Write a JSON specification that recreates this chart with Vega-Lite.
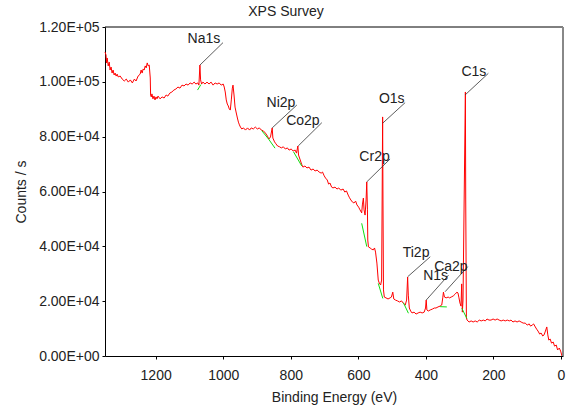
{
  "$schema": "https://vega.github.io/schema/vega-lite/v6.json",
  "width": 458,
  "height": 329,
  "autosize": "none",
  "padding": {"left": 105, "top": 27, "right": 9, "bottom": 60},
  "title": {"text": "XPS Survey", "fontSize": 14, "fontWeight": "normal", "font": "Liberation Sans", "color": "#222", "anchor": "middle", "dx": -48, "offset": 1},
  "config": {
    "view": {"stroke": null},
    "axis": {"grid": false, "domainColor": "#000", "tickColor": "#000", "labelFont": "Liberation Sans", "titleFont": "Liberation Sans", "labelFontSize": 14, "titleFontSize": 14, "titleFontWeight": "normal", "labelColor": "#222", "titleColor": "#222", "tickSize": 3}
  },
  "datasets": {
    "spec": [
      {"E":1350,"C":110900},{"E":1347,"C":109800},{"E":1345.5,"C":106900},{"E":1343.5,"C":108700},{"E":1340.5,"C":105800},{"E":1337.5,"C":107200},{"E":1335,"C":104300},{"E":1332,"C":105400},{"E":1329,"C":103200},{"E":1326,"C":104300},{"E":1323,"C":102500},{"E":1320,"C":103200},{"E":1317,"C":102100},{"E":1314,"C":102800},{"E":1311,"C":101800},{"E":1305,"C":102100},{"E":1299,"C":101000},{"E":1293,"C":100300},{"E":1287,"C":101000},{"E":1281,"C":99900},{"E":1275,"C":100700},{"E":1269,"C":99600},{"E":1263,"C":101000},{"E":1258,"C":100300},{"E":1252,"C":102100},{"E":1246,"C":102800},{"E":1243,"C":104300},{"E":1240,"C":103200},{"E":1237,"C":104700},{"E":1234,"C":104300},{"E":1231,"C":105800},{"E":1228,"C":105100},{"E":1225,"C":106900},{"E":1222,"C":105800},{"E":1219,"C":106100},{"E":1216,"C":101400},{"E":1215,"C":95200},{"E":1213,"C":94500},{"E":1211,"C":95600},{"E":1208,"C":93800},{"E":1205,"C":94800},{"E":1202,"C":93400},{"E":1199,"C":94500},{"E":1196,"C":93800},{"E":1193,"C":94800},{"E":1187,"C":93800},{"E":1181,"C":94500},{"E":1175,"C":94100},{"E":1169,"C":95200},{"E":1164,"C":94800},{"E":1158,"C":95900},{"E":1152,"C":96300},{"E":1146,"C":97000},{"E":1140,"C":97400},{"E":1134,"C":98100},{"E":1128,"C":97700},{"E":1122,"C":98800},{"E":1116,"C":98500},{"E":1110,"C":99200},{"E":1104,"C":98800},{"E":1098,"C":99600},{"E":1092,"C":99200},{"E":1086,"C":99900},{"E":1081,"C":99200},{"E":1075,"C":99600},{"E":1072,"C":98800},{"E":1069,"C":106100},{"E":1067,"C":100700},{"E":1064,"C":99200},{"E":1060,"C":99900},{"E":1054,"C":99200},{"E":1048,"C":99900},{"E":1042,"C":99200},{"E":1036,"C":99900},{"E":1030,"C":98800},{"E":1024,"C":99600},{"E":1018,"C":99200},{"E":1012,"C":99600},{"E":1006,"C":98800},{"E":1000,"C":99200},{"E":997,"C":98100},{"E":994,"C":96300},{"E":991,"C":93400},{"E":988,"C":91900},{"E":985,"C":91200},{"E":982,"C":90100},{"E":979,"C":89700},{"E":976,"C":93400},{"E":973,"C":97700},{"E":971,"C":98800},{"E":968,"C":95200},{"E":965,"C":90800},{"E":962,"C":89000},{"E":958,"C":86800},{"E":955,"C":85300},{"E":952,"C":84300},{"E":949,"C":83500},{"E":945,"C":82800},{"E":940,"C":83200},{"E":934,"C":82400},{"E":928,"C":83200},{"E":922,"C":82400},{"E":917,"C":83200},{"E":911,"C":82800},{"E":905,"C":83500},{"E":899,"C":82800},{"E":893,"C":83200},{"E":887,"C":82400},{"E":881,"C":82100},{"E":875,"C":81300},{"E":869,"C":80200},{"E":865,"C":79100},{"E":860,"C":79900},{"E":855,"C":83200},{"E":853,"C":79500},{"E":848,"C":78100},{"E":844,"C":77400},{"E":839,"C":76600},{"E":833,"C":76300},{"E":828,"C":75900},{"E":822,"C":76300},{"E":816,"C":75500},{"E":810,"C":75900},{"E":805,"C":75100},{"E":799,"C":75500},{"E":793,"C":74800},{"E":787,"C":75100},{"E":783,"C":74000},{"E":779,"C":76600},{"E":777,"C":73300},{"E":772,"C":71500},{"E":768,"C":70000},{"E":764,"C":68900},{"E":758,"C":69300},{"E":752,"C":68600},{"E":746,"C":68900},{"E":740,"C":67800},{"E":734,"C":68200},{"E":728,"C":67500},{"E":722,"C":67800},{"E":716,"C":67100},{"E":710,"C":66700},{"E":706,"C":67100},{"E":701,"C":65700},{"E":697,"C":64900},{"E":692,"C":64200},{"E":688,"C":62700},{"E":684,"C":63100},{"E":679,"C":61600},{"E":675,"C":61300},{"E":669,"C":61600},{"E":663,"C":60900},{"E":658,"C":61300},{"E":652,"C":60500},{"E":645,"C":60900},{"E":640,"C":59800},{"E":635,"C":60200},{"E":630,"C":58700},{"E":626,"C":57700},{"E":622,"C":56900},{"E":617,"C":56100},{"E":613,"C":55800},{"E":608,"C":56500},{"E":604,"C":55100},{"E":599,"C":54300},{"E":595,"C":53300},{"E":590,"C":52200},{"E":588,"C":55100},{"E":585,"C":57600},{"E":583,"C":53300},{"E":580,"C":51400},{"E":577,"C":56900},{"E":575,"C":63500},{"E":573,"C":53300},{"E":572,"C":42300},{"E":570,"C":39800},{"E":565,"C":39400},{"E":561,"C":39000},{"E":556,"C":38700},{"E":552,"C":39400},{"E":549,"C":37900},{"E":545,"C":33900},{"E":541,"C":27700},{"E":538,"C":26600},{"E":534,"C":25900},{"E":531,"C":27700},{"E":529.5,"C":56900},{"E":528,"C":87200},{"E":527,"C":56900},{"E":525.5,"C":24100},{"E":523,"C":21500},{"E":518,"C":21200},{"E":512,"C":20800},{"E":506,"C":21200},{"E":502,"C":21500},{"E":498,"C":23300},{"E":495,"C":20800},{"E":490,"C":20400},{"E":484,"C":20100},{"E":478,"C":19700},{"E":472,"C":20100},{"E":467,"C":19300},{"E":461,"C":18600},{"E":457,"C":20400},{"E":454,"C":28800},{"E":452,"C":22200},{"E":449,"C":17500},{"E":445,"C":16400},{"E":441,"C":15700},{"E":435,"C":16000},{"E":429,"C":15300},{"E":423,"C":15700},{"E":417,"C":16000},{"E":411,"C":15700},{"E":405,"C":16000},{"E":401,"C":17500},{"E":399,"C":20400},{"E":397,"C":16800},{"E":393,"C":16400},{"E":387,"C":16800},{"E":381,"C":17100},{"E":375,"C":17500},{"E":370,"C":17500},{"E":364,"C":17900},{"E":358,"C":18200},{"E":353,"C":18600},{"E":350,"C":21200},{"E":348,"C":23300},{"E":345,"C":21500},{"E":340,"C":21200},{"E":334,"C":21500},{"E":330,"C":21200},{"E":325,"C":21500},{"E":319,"C":21900},{"E":313,"C":22600},{"E":308,"C":23300},{"E":305,"C":23000},{"E":302,"C":21200},{"E":299,"C":19300},{"E":296,"C":18200},{"E":294,"C":26300},{"E":292,"C":16000},{"E":290,"C":20400},{"E":283,"C":96300},{"E":282,"C":56900},{"E":280,"C":13900},{"E":278,"C":13100},{"E":272,"C":12400},{"E":266,"C":12800},{"E":260,"C":12400},{"E":254,"C":12800},{"E":248,"C":12400},{"E":242,"C":13100},{"E":236,"C":12800},{"E":230,"C":13100},{"E":224,"C":12800},{"E":219,"C":13500},{"E":213,"C":13100},{"E":207,"C":13100},{"E":201,"C":13500},{"E":195,"C":13100},{"E":189,"C":13500},{"E":183,"C":13100},{"E":177,"C":12800},{"E":171,"C":13100},{"E":165,"C":12800},{"E":159,"C":13100},{"E":153,"C":12800},{"E":148,"C":13100},{"E":142,"C":12400},{"E":136,"C":12800},{"E":130,"C":12400},{"E":124,"C":12800},{"E":118,"C":12400},{"E":112,"C":12000},{"E":106,"C":12000},{"E":100,"C":11300},{"E":94,"C":11700},{"E":90,"C":10900},{"E":85,"C":11300},{"E":81,"C":11700},{"E":76,"C":10600},{"E":72,"C":9800},{"E":68,"C":9100},{"E":63,"C":8000},{"E":59,"C":8400},{"E":54,"C":7300},{"E":50,"C":7700},{"E":46,"C":9100},{"E":42,"C":10600},{"E":39,"C":7700},{"E":36,"C":5800},{"E":32,"C":6200},{"E":28,"C":4700},{"E":23,"C":5100},{"E":19,"C":3600},{"E":14,"C":4000},{"E":10,"C":2200},{"E":5,"C":2900},{"E":1,"C":1800},{"E":-3,"C":0}
    ],
    "bg": [
      {"s":"na","E":1076,"C":97000},{"s":"na","E":1066,"C":99000},
      {"s":"ni","E":886,"C":82200},{"s":"ni","E":865,"C":79000},{"s":"ni","E":846.6,"C":75800},
      {"s":"co","E":792,"C":74500},{"s":"co","E":767.5,"C":69300},
      {"s":"cr","E":590,"C":48400},{"s":"cr","E":575,"C":39900},
      {"s":"o","E":541,"C":26500},{"s":"o","E":527.5,"C":21000},
      {"s":"ti","E":466.5,"C":19400},{"s":"ti","E":451.7,"C":15600},
      {"s":"ca","E":358,"C":18000},{"s":"ca","E":338,"C":17900},
      {"s":"c","E":293.5,"C":17400},{"s":"c","E":278.7,"C":13700}
    ],
    "labels": [
      {"t":"Na1s","tx":1057,"ty":115500,"x1":1069,"y1":106100,"x2":1000.6,"y2":114300},
      {"t":"Ni2p","tx":829,"ty":92200,"x1":855,"y1":83200,"x2":782,"y2":91550},
      {"t":"Co2p","tx":764,"ty":85800,"x1":778,"y1":76600,"x2":708,"y2":85100},
      {"t":"O1s","tx":501,"ty":93700,"x1":528,"y1":84900,"x2":461.5,"y2":92400},
      {"t":"Cr2p","tx":552,"ty":72700,"x1":575,"y1":63500,"x2":506,"y2":71850},
      {"t":"Ti2p","tx":429,"ty":37500,"x1":454,"y1":28900,"x2":387,"y2":36200},
      {"t":"N1s","tx":371,"ty":29200,"x1":399,"y1":20400,"x2":333,"y2":29500},
      {"t":"Ca2p","tx":326,"ty":32600,"x1":343,"y1":23450,"x2":276,"y2":32600},
      {"t":"C1s","tx":258,"ty":103700,"x1":284,"y1":95200,"x2":215,"y2":103100}
    ]
  },
  "layer": [
    {
      "data": {"name": "spec"},
      "mark": {"type": "line", "color": "#ff0000", "strokeWidth": 1},
      "encoding": {
        "x": {"field": "E", "type": "quantitative", "title": "Binding Energy (eV)",
          "scale": {"domain": [-6, 1350], "reverse": true, "nice": false, "zero": false},
          "axis": {"values": [0,100,200,300,400,500,600,700,800,900,1000,1100,1200,1300], "labelExpr": "datum.value % 200 == 0 ? format(datum.value, 'd') : ''", "labelPadding": 9, "titlePadding": 8, "labelOverlap": false, "labelFlush": false}},
        "y": {"field": "C", "type": "quantitative", "title": "Counts / s",
          "scale": {"domain": [0, 120000], "nice": false},
          "axis": {"values": [0,10000,20000,30000,40000,50000,60000,70000,80000,90000,100000,110000,120000], "labelExpr": "datum.value % 20000 != 0 ? '' : (datum.value == 0 ? '0.00E+00' : format(datum.value / pow(10, floor(log(datum.value) / LN10 + 1e-9)), '.2f') + 'E+' + pad(floor(log(datum.value) / LN10 + 1e-9), 2, '0', 'left'))", "labelPadding": 3, "titlePadding": 10, "labelOverlap": false, "labelFlush": false}}
      }
    },
    {
      "data": {"name": "bg"},
      "mark": {"type": "line", "color": "#11dd11", "strokeWidth": 1},
      "encoding": {
        "x": {"field": "E", "type": "quantitative", "title": "Binding Energy (eV)"},
        "y": {"field": "C", "type": "quantitative", "title": "Counts / s"},
        "detail": {"field": "s"}
      }
    },
    {
      "data": {"name": "labels"},
      "mark": {"type": "rule", "color": "#333", "strokeWidth": 0.8},
      "encoding": {
        "x": {"field": "x1", "type": "quantitative", "title": "Binding Energy (eV)"},
        "y": {"field": "y1", "type": "quantitative", "title": "Counts / s"},
        "x2": {"field": "x2"},
        "y2": {"field": "y2"}
      }
    },
    {
      "data": {"name": "labels"},
      "mark": {"type": "text", "font": "Liberation Sans", "fontSize": 14, "color": "#222", "align": "center", "baseline": "middle"},
      "encoding": {
        "x": {"field": "tx", "type": "quantitative", "title": "Binding Energy (eV)"},
        "y": {"field": "ty", "type": "quantitative", "title": "Counts / s"},
        "text": {"field": "t"}
      }
    },
    {
      "data": {"values": [{}]},
      "mark": {"type": "rule", "color": "#000", "strokeWidth": 1},
      "encoding": {"y": {"datum": 120000, "type": "quantitative", "title": "Counts / s"}}
    },
    {
      "data": {"values": [{}]},
      "mark": {"type": "rule", "color": "#888", "strokeWidth": 2},
      "encoding": {"x": {"datum": -6, "type": "quantitative", "title": "Binding Energy (eV)"}}
    }
  ]
}
